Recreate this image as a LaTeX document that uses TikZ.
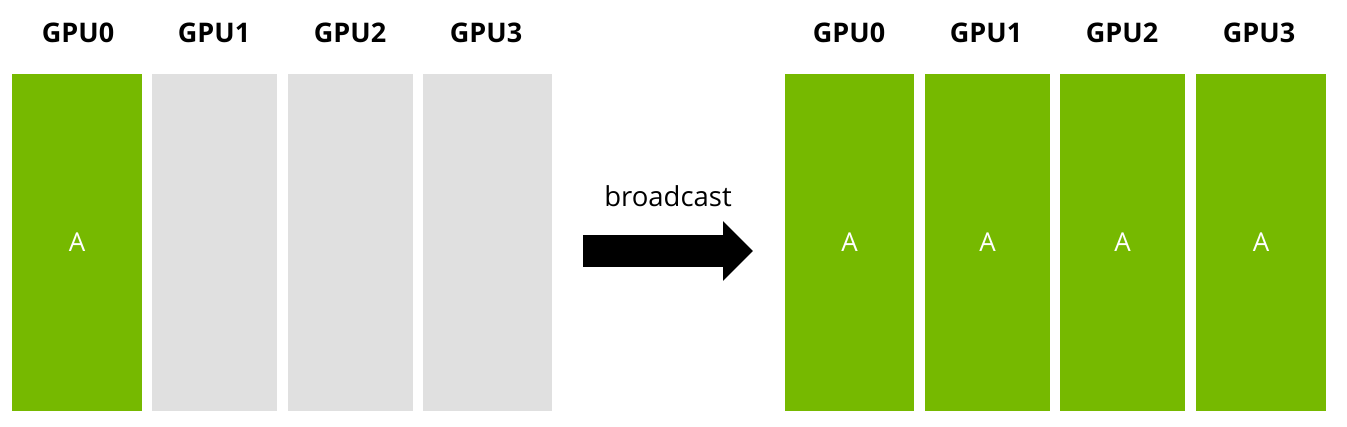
\documentclass[tikz,border=0pt]{standalone}
\usepackage{fontspec}
\setsansfont{Open Sans}
\usepackage{xcolor}
\usepackage{tikz}
\usetikzlibrary{arrows.meta,positioning}
\definecolor{nvgreen}{HTML}{76B900}
\definecolor{idle}{HTML}{E0E0E0}
\begin{document}
\begin{tikzpicture}[x=1pt,y=-1pt,
  buf/.style={fill=#1,draw=none,minimum height=337pt,inner sep=0pt,
    font=\sffamily\fontsize{26}{26}\selectfont,text=white},
  buf/.default=nvgreen,
  gpu/.style={anchor=base,inner sep=0pt,font=\sffamily\bfseries\fontsize{27}{27}\selectfont},
  op/.style={-{Triangle[length=30pt,width=58pt]},line width=32pt}]
\useasboundingbox (0,0) rectangle (1347,427);
% before
\node[buf,minimum width=130pt] (l0) at (77,242.5) {A};
\node[buf=idle,minimum width=125pt] (l1) at (214.5,242.5) {};
\node[buf=idle,minimum width=125pt] (l2) at (350.5,242.5) {};
\node[buf=idle,minimum width=129pt] (l3) at (487.5,242.5) {};
\node[gpu] at (78,43) {GPU0};
\node[gpu] at (214,43) {GPU1};
\node[gpu] at (350,43) {GPU2};
\node[gpu] at (486,43) {GPU3};
% after
\node[buf,minimum width=129pt] (r0) at (849.5,242.5) {A};
\node[buf,minimum width=125pt] (r1) at (987.5,242.5) {A};
\node[buf,minimum width=125pt] (r2) at (1122.5,242.5) {A};
\node[buf,minimum width=130pt] (r3) at (1261,242.5) {A};
\node[gpu] at (849,43) {GPU0};
\node[gpu] at (986,43) {GPU1};
\node[gpu] at (1122,43) {GPU2};
\node[gpu] at (1259,43) {GPU3};
% the operation
\coordinate (src) at (583,251);
\coordinate (dst) at (753,251);
\draw[op] (src) -- (dst);
\node[anchor=base,inner sep=0pt,font=\sffamily\fontsize{27.5}{27.5}\selectfont] (bc) at (668,207) {broadcast};
\end{tikzpicture}
\end{document}
